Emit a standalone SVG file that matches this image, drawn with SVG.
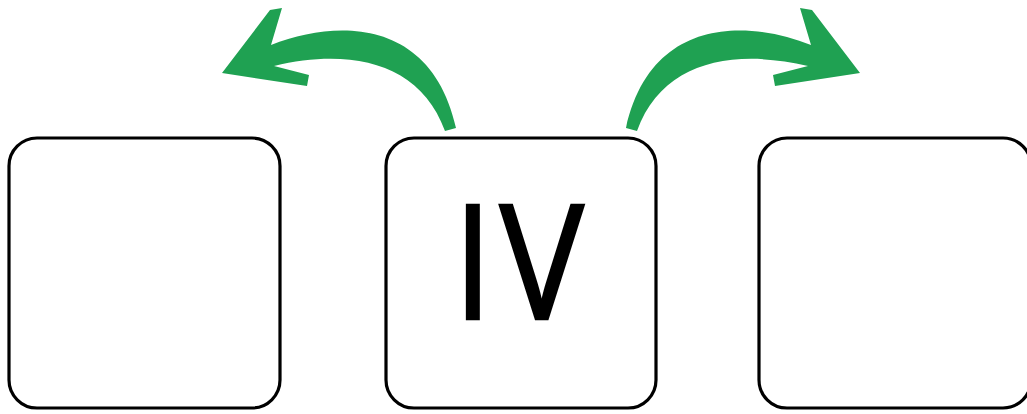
<svg xmlns="http://www.w3.org/2000/svg" xmlns:xlink="http://www.w3.org/1999/xlink" width="1027" height="414" viewBox="0 0 1027 414">
<style>
.box{fill:#fff;stroke:#000;stroke-width:3.2}
.arrow{fill:#1fa152}
.lbl{font-family:"Open Sans","Liberation Sans",sans-serif;font-size:160px;fill:#000;stroke:#000;stroke-width:2.6}
</style>
<defs>
<path id="brush" d="M 222,73 L 270,10 L 282,8 L 271,45 C 340,18 432,20 456,128 L 445,131 C 420,62 350,48 274,66 L 309,75 L 307,86 Z"/>
</defs>
<rect width="1027" height="414" fill="#fff"/>
<g id="connectors">
<use xlink:href="#brush" class="arrow"/>
<use xlink:href="#brush" class="arrow" transform="translate(1082,0) scale(-1,1)"/>
</g>
<g id="node-left"><rect class="box" x="9" y="138" width="271" height="270" rx="28"/></g>
<g id="node-center"><rect class="box" x="386" y="138" width="270" height="270" rx="28"/>
<text class="lbl" transform="translate(518.5,319) scale(0.88,1)" x="0" y="0" text-anchor="middle" letter-spacing="8" dx="4">IV</text></g>
<g id="node-right"><rect class="box" x="759" y="138" width="272" height="270" rx="28"/></g>
</svg>
